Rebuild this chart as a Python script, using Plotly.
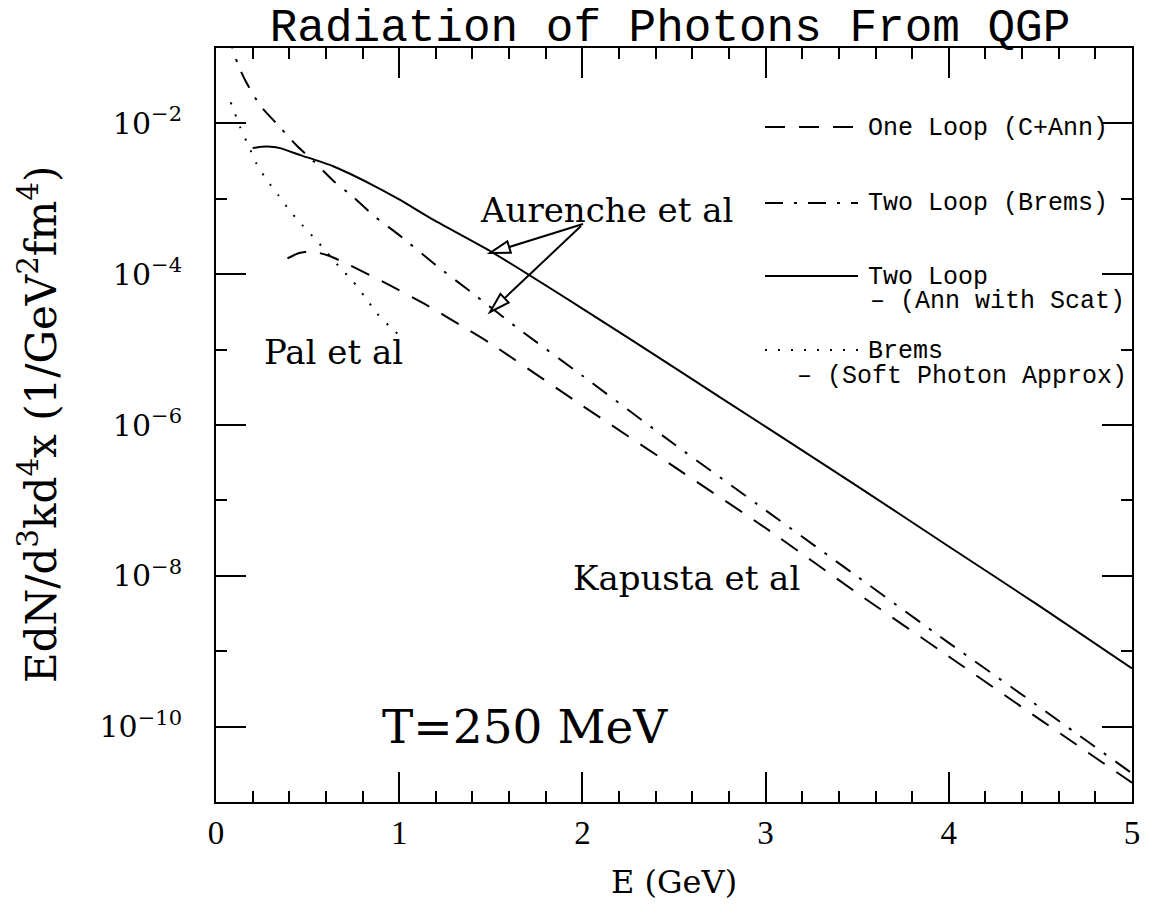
import plotly.graph_objects as go

# ---- data (E in GeV, rate in 1/GeV^2 fm^4) ----
e_two_loop_ann = [0.2, 0.25, 0.3, 0.35, 0.46, 0.64, 0.86, 1.0, 1.19, 1.5,
                  2.0, 2.5, 3.0, 3.5, 4.0, 4.5, 5.0]
r_two_loop_ann = [4.7e-3, 4.9e-3, 4.9e-3, 4.7e-3, 3.8e-3, 2.7e-3, 1.5e-3, 9.8e-4,
                  5.2e-4, 2.0e-4, 3.5e-5, 5.8e-6, 9.5e-7, 1.55e-7, 2.45e-8,
                  3.9e-9, 5.9e-10]

e_two_loop_brems = [0.06, 0.07, 0.09, 0.12, 0.16, 0.24, 0.33, 0.44, 0.53, 0.64,
                    0.75, 0.86, 1.0, 1.2, 1.4, 1.65, 2.0, 2.5, 3.0, 3.5, 4.0,
                    4.5, 5.0]
r_two_loop_brems = [1.66e-1, 1.38e-1, 1.0e-1, 6.0e-2, 3.7e-2, 1.74e-2, 1.0e-2,
                    5.1e-3, 3.2e-3, 1.74e-3, 1.05e-3, 6.0e-4, 3.3e-4, 1.32e-4,
                    5.6e-5, 1.9e-5, 4.5e-6, 5.6e-7, 7.4e-8, 9.8e-9, 1.29e-9,
                    1.78e-10, 2.4e-11]

e_one_loop = [0.39, 0.45, 0.5, 0.55, 0.62, 0.73, 0.95, 1.15, 1.35, 1.5, 2.0,
              2.5, 3.0, 3.5, 4.0, 4.5, 5.0]
r_one_loop = [1.62e-4, 1.9e-4, 2.0e-4, 1.95e-4, 1.74e-4, 1.32e-4, 7.1e-5,
              3.9e-5, 2.0e-5, 1.2e-5, 1.8e-6, 2.8e-7, 4.3e-8, 5.9e-9, 8.5e-10,
              1.23e-10, 1.8e-11]

e_soft_brems = [0.08, 0.093, 0.13, 0.18, 0.22, 0.28, 0.34, 0.40, 0.47, 0.54,
                0.61, 0.68, 0.75, 0.81, 0.88, 0.95, 1.0]
r_soft_brems = [1.9e-2, 1.58e-2, 9.1e-3, 4.9e-3, 2.95e-3, 1.74e-3, 1.12e-3,
                7.1e-4, 4.5e-4, 2.95e-4, 1.9e-4, 1.2e-4, 7.9e-5, 5.1e-5, 3.0e-5,
                2.0e-5, 1.55e-5]

y_tick_exps = [-2, -4, -6, -8, -10]
x_tick_vals = [0, 1, 2, 3, 4, 5]

# page has an 8px body margin, so the figure is drawn 8px in from the corner
OFF = 8
W, H = 1156 - OFF, 909 - OFF
L, R, T, B = 216, 1132, 48, 802   # plot frame in window pixels

SERIF = "DejaVu Serif"
MONO = "Liberation Mono"
DASH = "20px,14px"
DASHDOT = "18px,11px,3px,11px"
DOT = "2px,11px"


def px(x, y):
    # window pixel position -> paper coordinates
    return (x - L) / (R - L), (B - y) / (B - T)


fig = go.Figure()

curves = [
    (e_one_loop, r_one_loop, DASH),
    (e_two_loop_brems, r_two_loop_brems, DASHDOT),
    (e_two_loop_ann, r_two_loop_ann, "solid"),
    (e_soft_brems, r_soft_brems, DOT),
]
for xs, ys, dash in curves:
    fig.add_trace(go.Scatter(x=xs, y=ys, mode="lines",
                             line=dict(color="black", width=2, dash=dash, shape="spline", smoothing=0.6),
                             showlegend=False, hoverinfo="skip"))

# hand-drawn legend on the right
legend_rows = [
    (127, DASH, "One Loop (C+Ann)", None),
    (203, DASHDOT, "Two Loop (Brems)", None),
    (276, "solid", "Two Loop", ("\u2013 (Ann with Scat)", 868, 301)),
    (350, DOT, "Brems", ("\u2013 (Soft Photon Approx)", 795, 376)),
]
shapes = []
annotations = []
for yy, dash, label, extra in legend_rows:
    x0, y0 = px(765, yy)
    x1, _ = px(858, yy)
    shapes.append(dict(type="line", xref="paper", yref="paper", x0=x0, x1=x1, y0=y0, y1=y0,
                       line=dict(color="black", width=2, dash=dash)))
    lx, ly = px(866, yy + 1)
    annotations.append(dict(text=label, xref="paper", yref="paper", x=lx, y=ly,
                            xanchor="left", yanchor="middle", showarrow=False,
                            font=dict(family=MONO, size=25, color="black")))
    if extra:
        tx, ty = px(extra[1], extra[2])
        annotations.append(dict(text=extra[0], xref="paper", yref="paper", x=tx, y=ty,
                                xanchor="left", yanchor="middle", showarrow=False,
                                font=dict(family=MONO, size=25, color="black")))

# arrows with open heads
for (tx, ty), (hx, hy) in [((583, 224), (490, 253)), ((581, 226), (490, 312))]:
    a, b = px(tx, ty)
    c, d = px(hx, hy)
    shapes.append(dict(type="line", xref="paper", yref="paper", x0=a, y0=b, x1=c, y1=d,
                       line=dict(color="black", width=2)))
    dx, dy = tx - hx, ty - hy
    n = (dx * dx + dy * dy) ** 0.5
    ux, uy = dx / n, dy / n
    bx, by = hx + ux * 20, hy + uy * 20
    p1 = px(bx - uy * 6, by + ux * 6)
    p2 = px(bx + uy * 6, by - ux * 6)
    path = "M {} {} L {} {} L {} {} Z".format(c, d, p1[0], p1[1], p2[0], p2[1])
    shapes.append(dict(type="path", xref="paper", yref="paper", path=path,
                       fillcolor="white", line=dict(color="black", width=2)))

texts = [
    ("Aurenche et al", 606, 210, 34),
    ("Pal et al", 333, 352, 34),
    ("Kapusta et al", 686, 578, 34),
    ("T=250 MeV", 525, 726, 47),
]
for s, cx, cy, size in texts:
    ax_, ay_ = px(cx, cy)
    annotations.append(dict(text=s, xref="paper", yref="paper", x=ax_, y=ay_,
                            xanchor="center", yanchor="middle", showarrow=False,
                            font=dict(family=SERIF, size=size, color="black")))

# axis titles
ex, ey = px(674, 882)
annotations.append(dict(text="E (GeV)", xref="paper", yref="paper", x=ex, y=ey,
                        xanchor="center", yanchor="middle", showarrow=False,
                        font=dict(family=SERIF, size=32, color="black")))
yx, yy_ = px(38, 425)
annotations.append(dict(text="EdN/d<sup>3</sup>kd<sup>4</sup>x (1/GeV<sup>2</sup>fm<sup>4</sup>)",
                        xref="paper", yref="paper", x=yx, y=yy_, textangle=-90,
                        xanchor="center", yanchor="middle", showarrow=False,
                        font=dict(family=SERIF, size=42, color="black")))

fig.update_layout(
    width=W, height=H,
    margin=dict(l=L - OFF, r=W + OFF - R, t=T - OFF, b=H + OFF - B),
    paper_bgcolor="white", plot_bgcolor="white",
    title=dict(text="Radiation of Photons From QGP", x=(670 - OFF) / W, xanchor="center",
               y=1 - (25 - OFF) / H, yanchor="middle", font=dict(family=MONO, size=46, color="black")),
    shapes=shapes, annotations=annotations,
)

fig.update_xaxes(
    range=[0, 5], showgrid=False, zeroline=False,
    showline=True, linecolor="black", linewidth=2, mirror="allticks",
    ticks="inside", ticklen=30, tickwidth=2, tickcolor="black",
    tickvals=x_tick_vals, ticklabelstandoff=0,
    tickfont=dict(family="Liberation Serif", size=33, color="black"),
    minor=dict(ticks="inside", ticklen=11, tickwidth=2, tickcolor="black", dtick=0.2, showgrid=False),
)
fig.update_yaxes(
    type="log", range=[-11, -1], showgrid=False, zeroline=False,
    showline=True, linecolor="black", linewidth=2, mirror="allticks",
    ticks="inside", ticklen=30, tickwidth=2, tickcolor="black",
    tickvals=[10.0 ** k for k in y_tick_exps],
    ticktext=["10<sup>\u2212%d</sup>" % (-k) for k in y_tick_exps],
    ticklabelstandoff=26,
    tickfont=dict(family=SERIF, size=30, color="black"),
    minor=dict(ticks="inside", ticklen=11, tickwidth=2, tickcolor="black", dtick=1, showgrid=False),
)

fig.write_html("out.html")
